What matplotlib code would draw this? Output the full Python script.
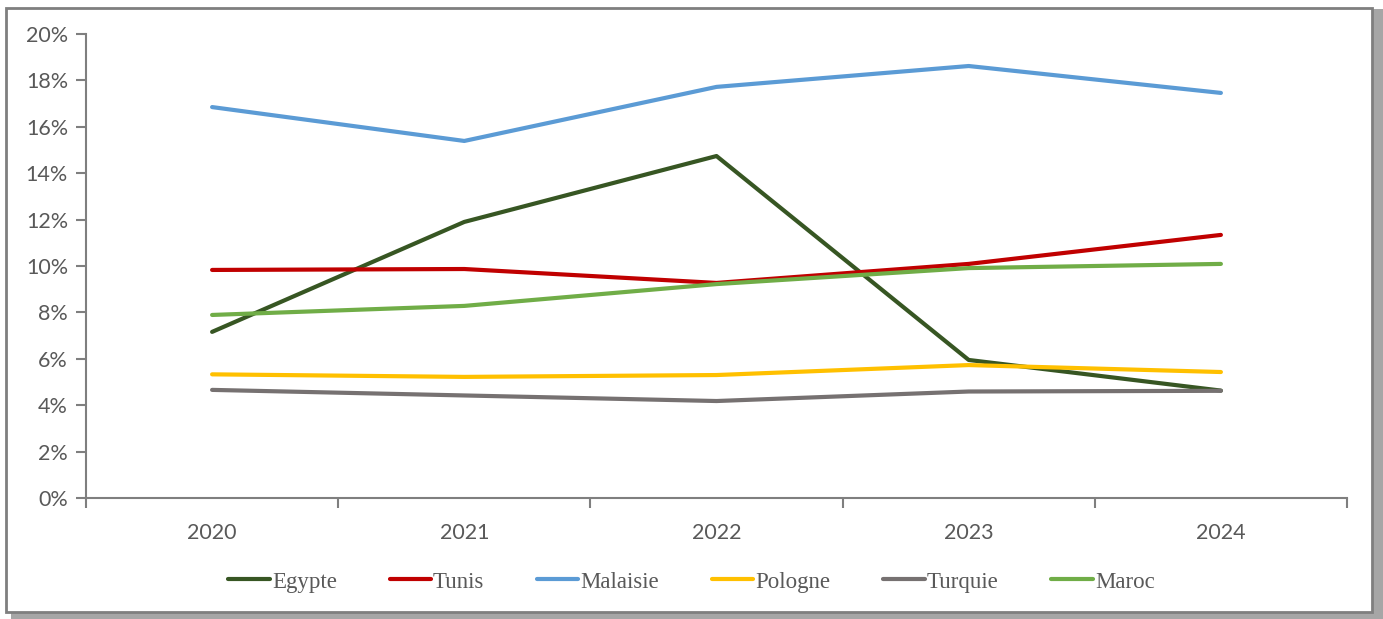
import matplotlib
matplotlib.use("Agg")
import matplotlib.pyplot as plt
from matplotlib.patches import Rectangle
from matplotlib.ticker import FuncFormatter

years = ["2020", "2021", "2022", "2023", "2024"]
egypte = [7.16, 11.90, 14.74, 5.95, 4.63]
tunis = [9.83, 9.87, 9.27, 10.09, 11.34]
malaisie = [16.85, 15.39, 17.72, 18.62, 17.46]
pologne = [5.33, 5.22, 5.30, 5.73, 5.43]
turquie = [4.66, 4.42, 4.18, 4.59, 4.62]
maroc = [7.89, 8.28, 9.22, 9.91, 10.09]

series = [
    ("Egypte", egypte, "#375623"),
    ("Tunis", tunis, "#c00000"),
    ("Malaisie", malaisie, "#5b9bd5"),
    ("Pologne", pologne, "#ffc000"),
    ("Turquie", turquie, "#767171"),
    ("Maroc", maroc, "#70ad47"),
]

fig = plt.figure(figsize=(13.83, 6.19), dpi=100)

# frame with shadow
fig.patches.append(Rectangle((0.008, 0.0), 0.992, 0.985, transform=fig.transFigure,
                             facecolor="#a6a6a6", edgecolor="none", zorder=0))
fig.patches.append(Rectangle((0.004, 0.012), 0.988, 0.975, transform=fig.transFigure,
                             facecolor="white", edgecolor="#7f7f7f", linewidth=2, zorder=1))

ax = fig.add_axes([86 / 1383, 1 - 498 / 619, (1347 - 86) / 1383, (498 - 34) / 619])
ax.set_zorder(2)
ax.patch.set_alpha(0)

x = list(range(len(years)))
for name, vals, col in series:
    ax.plot(x, vals, color=col, linewidth=3, label=name, solid_capstyle="round")

ax.set_xlim(-0.5, 4.5)
ax.set_ylim(0, 20)
ax.set_yticks(range(0, 21, 2))
ax.yaxis.set_major_formatter(FuncFormatter(lambda v, p: f"{int(v)}%"))

ax.set_xticks([i - 0.5 for i in range(len(years) + 1)])
ax.set_xticklabels([])
ax.set_xticks(x, minor=True)
ax.set_xticklabels(years, minor=True)
ax.tick_params(axis="x", which="major", length=7, color="#7f7f7f", width=1.5)
ax.tick_params(axis="x", which="minor", length=0, pad=18)
ax.tick_params(axis="y", length=7, color="#7f7f7f", width=1.5, pad=6)

for lab in ax.get_xticklabels(minor=True) + ax.get_yticklabels():
    lab.set_fontfamily("Lato")
    lab.set_fontsize(15.5)
    lab.set_color("#595959")

for side in ["top", "right"]:
    ax.spines[side].set_visible(False)
for side in ["left", "bottom"]:
    ax.spines[side].set_color("#7f7f7f")
    ax.spines[side].set_linewidth(1.5)

leg = fig.legend(loc="center", bbox_to_anchor=(0.5, 1 - 582 / 619), ncol=6, frameon=False,
                 prop={"family": "Liberation Serif", "size": 16.5}, handlelength=1.8,
                 handletextpad=0.1, columnspacing=2.3)
for t in leg.get_texts():
    t.set_color("#595959")

fig.savefig("out.png", dpi=100)
